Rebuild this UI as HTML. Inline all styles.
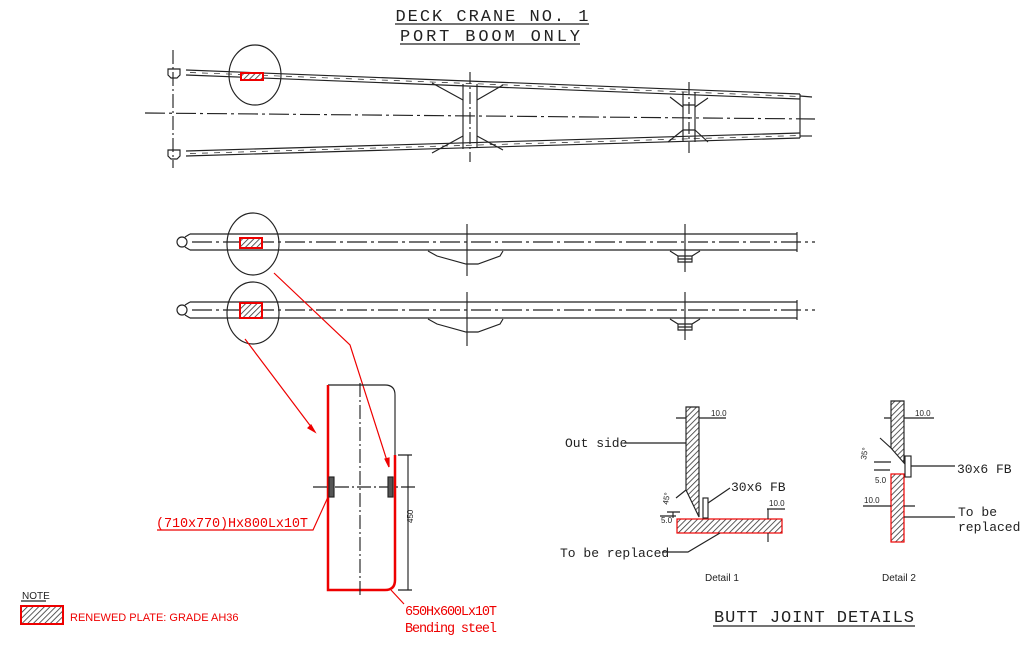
<!DOCTYPE html>
<html><head><meta charset="utf-8"><style>
html,body{margin:0;padding:0;background:#fff;}
svg{display:block;}
.t{font-family:"Liberation Mono",monospace;}
.s{font-family:"Liberation Sans",sans-serif;}
</style></head><body>
<svg width="1024" height="651" viewBox="0 0 1024 651" xmlns="http://www.w3.org/2000/svg">
<defs>
<pattern id="h" width="4" height="4" patternUnits="userSpaceOnUse" patternTransform="rotate(45)">
<rect width="4" height="4" fill="#fff"/><line x1="0" y1="0" x2="0" y2="4" stroke="#333" stroke-width="1.6"/>
</pattern>
</defs>
<g fill="none" stroke="#222" stroke-width="1.15">
<text x="492" y="21" class="t" font-size="17" fill="#222" stroke="none" text-anchor="middle" textLength="193">DECK CRANE NO. 1</text>
<line x1="395" y1="24" x2="589" y2="24"/>
<text x="490" y="41" class="t" font-size="17" fill="#222" stroke="none" text-anchor="middle" textLength="180">PORT BOOM ONLY</text>
<line x1="400" y1="44" x2="580" y2="44"/>

<line x1="173" y1="50" x2="173" y2="168" stroke-dasharray="14,3,2,3"/>
<line x1="145" y1="113" x2="815" y2="119" stroke-dasharray="20,4,3,4"/>
<line x1="186" y1="70" x2="800" y2="94"/>
<line x1="186" y1="75" x2="800" y2="99"/>
<line x1="190" y1="72.5" x2="800" y2="96.5" stroke-dasharray="6,6" stroke-width="0.7"/>
<line x1="186" y1="156" x2="800" y2="138"/>
<line x1="186" y1="151" x2="800" y2="133"/>
<line x1="190" y1="153.5" x2="800" y2="135.5" stroke-dasharray="6,6" stroke-width="0.7"/>
<path d="M168,69 h12 v6 l-3,3 h-6 l-3,-3 z"/>
<path d="M168,150 h12 v6 l-3,3 h-6 l-3,-3 z"/>
<line x1="800" y1="94" x2="800" y2="138"/>
<line x1="800" y1="96" x2="812" y2="97"/><line x1="800" y1="136" x2="812" y2="136"/>
<ellipse cx="255" cy="75" rx="26" ry="30"/>
<rect x="241" y="73" width="22" height="7" fill="url(#h)" stroke="#e00" stroke-width="2"/>
<line x1="463" y1="84" x2="463" y2="149"/><line x1="477" y1="84" x2="477" y2="148"/>
<line x1="470" y1="72" x2="470" y2="162" stroke-dasharray="12,3,2,3"/>
<path d="M432,83 L463,100 M477,100 L503,85 M432,153 L463,136 M477,136 L503,150"/>
<line x1="683" y1="92" x2="683" y2="142"/><line x1="695" y1="92" x2="695" y2="142"/>
<line x1="689" y1="82" x2="689" y2="153" stroke-dasharray="12,3,2,3"/>
<path d="M670,97 L683,107 M695,107 L708,98 M668,142 L683,130 M695,130 L708,142 M683,105 H695 M683,130 H695"/>

<line x1="190" y1="234" x2="797" y2="234"/>
<line x1="190" y1="250" x2="797" y2="250"/>
<line x1="797" y1="232" x2="797" y2="252"/>
<line x1="192" y1="242" x2="815" y2="242" stroke-dasharray="20,4,3,4"/>
<circle cx="182" cy="242" r="5"/><path d="M185,237 L190,234 M185,247 L190,250"/>
<ellipse cx="253" cy="244" rx="26" ry="31"/>
<rect x="240" y="238" width="22" height="10" fill="url(#h)" stroke="#e00" stroke-width="2"/>
<path d="M428,251 L437,256 L466,264 L478,264 L500,256 L503,251"/>
<line x1="467" y1="224" x2="467" y2="276"/>
<path d="M670,251 L678,256 H692 L700,251 M678,256 V262 H692 V256 M678,259 H692"/>
<line x1="685" y1="224" x2="685" y2="272"/>

<line x1="190" y1="302" x2="797" y2="302"/>
<line x1="190" y1="318" x2="797" y2="318"/>
<line x1="797" y1="300" x2="797" y2="320"/>
<line x1="192" y1="310" x2="815" y2="310" stroke-dasharray="20,4,3,4"/>
<circle cx="182" cy="310" r="5"/><path d="M185,305 L190,302 M185,315 L190,318"/>
<ellipse cx="253" cy="313" rx="26" ry="31"/>
<rect x="240" y="303" width="22" height="15" fill="url(#h)" stroke="#e00" stroke-width="2"/>
<path d="M428,319 L437,324 L466,332 L478,332 L500,324 L503,319"/>
<line x1="467" y1="292" x2="467" y2="346"/>
<path d="M670,319 L678,324 H692 L700,319 M678,324 V330 H692 V324 M678,327 H692"/>
<line x1="685" y1="292" x2="685" y2="340"/>

<g stroke="#e00" stroke-width="1.2">
<path d="M245,339 L315,432"/><path d="M315,432 l-7,-4 l3,-3 z" fill="#e00"/>
<path d="M274,273 L350,345 L389,467"/><path d="M389,467 l-4,-8 l4,-1 z" fill="#e00"/>
</g>

<path d="M328,385 H385 Q395,385 395,395 V455"/>
<path d="M328,385 V590 H385 Q395,590 395,580 V455" stroke="#e00" stroke-width="2.5"/>
<line x1="360" y1="383" x2="360" y2="596" stroke-dasharray="14,3,2,3"/>
<line x1="313" y1="487" x2="415" y2="487" stroke-dasharray="14,3,2,3"/>
<rect x="329" y="477" width="5" height="20" fill="#555"/>
<rect x="388" y="477" width="5" height="20" fill="#555"/>
<line x1="408" y1="455" x2="408" y2="590"/>
<path d="M398,455 H412 M398,590 H412"/>
<text x="413" y="523" class="s" font-size="8" fill="#222" stroke="none" transform="rotate(-90 413 523)">450</text>
<path d="M328,497 L313,530 H157" stroke="#e00"/>
<text x="156" y="527" class="t" font-size="13.5" fill="#e00" stroke="none" textLength="152">(710x770)Hx800Lx10T</text>
<path d="M391,590 L404,604" stroke="#e00"/>
<text x="405" y="615" class="t" font-size="13.5" fill="#e00" stroke="none" textLength="92">650Hx600Lx10T</text>
<text x="405" y="632" class="t" font-size="13.5" fill="#e00" stroke="none" textLength="92">Bending steel</text>

<text x="22" y="599" class="s" font-size="10" fill="#222" stroke="none">NOTE</text>
<line x1="21" y1="601" x2="46" y2="601"/>
<rect x="21" y="606" width="42" height="18" fill="url(#h)" stroke="#e00" stroke-width="2"/>
<text x="70" y="621" class="s" font-size="11" fill="#e00" stroke="none">RENEWED PLATE: GRADE AH36</text>

<path d="M686,407 H699 V517 L686,490 Z" fill="url(#h)"/>
<rect x="677" y="519" width="105" height="14" fill="url(#h)" stroke="#e00" stroke-width="1.2"/>
<rect x="703" y="498" width="5" height="20" fill="#fff"/>
<path d="M676,418 H686 M699,418 H726"/>
<text x="711" y="416" class="s" font-size="8" fill="#222" stroke="none">10.0</text>
<text x="565" y="447" class="t" font-size="13" fill="#222" stroke="none">Out side</text>
<path d="M624,443 H686"/>
<text x="731" y="491" class="t" font-size="13" fill="#222" stroke="none">30x6 FB</text>
<path d="M708,503 L730,488"/>
<text x="769" y="506" class="s" font-size="8" fill="#222" stroke="none">10.0</text>
<path d="M767,509 H785 M768,509 V519 M768,533 V542"/>
<text x="661" y="523" class="s" font-size="8" fill="#222" stroke="none">5.0</text>
<path d="M660,516 H676 M673,512 V518"/>
<path d="M686,490 L676,498 M667,512 H680"/>
<text x="668" y="505" class="s" font-size="8" fill="#222" stroke="none" transform="rotate(-80 668 505)">45°</text>
<text x="560" y="557" class="t" font-size="13" fill="#222" stroke="none">To be replaced</text>
<path d="M662,552 H688 L720,533"/>
<text x="705" y="581" class="s" font-size="10" fill="#222" stroke="none">Detail 1</text>

<path d="M891,401 H904 V463 L891,448 Z" fill="url(#h)"/>
<rect x="891" y="474" width="13" height="68" fill="url(#h)" stroke="#e00" stroke-width="1.2"/>
<rect x="905" y="456" width="6" height="21" fill="#fff"/>
<path d="M884,418 H891 M904,418 H934"/>
<text x="915" y="416" class="s" font-size="8" fill="#222" stroke="none">10.0</text>
<path d="M911,466 H955"/>
<text x="957" y="473" class="t" font-size="13" fill="#222" stroke="none">30x6 FB</text>
<path d="M891,448 L880,438 M874,462 H891 M874,470 H890"/>
<text x="866" y="460" class="s" font-size="8" fill="#222" stroke="none" transform="rotate(-80 866 460)">35°</text>
<text x="875" y="483" class="s" font-size="8" fill="#222" stroke="none">5.0</text>
<text x="864" y="503" class="s" font-size="8" fill="#222" stroke="none">10.0</text>
<path d="M863,506 H891 M904,506 H915 M904,517 H955"/>
<text x="958" y="516" class="t" font-size="13" fill="#222" stroke="none">To be</text>
<text x="958" y="531" class="t" font-size="13" fill="#222" stroke="none">replaced</text>
<text x="882" y="581" class="s" font-size="10" fill="#222" stroke="none">Detail 2</text>

<text x="814" y="622" class="t" font-size="17" fill="#222" stroke="none" text-anchor="middle" textLength="200">BUTT JOINT DETAILS</text>
<line x1="713" y1="626" x2="915" y2="626"/>
</g>
</svg>
</body></html>
